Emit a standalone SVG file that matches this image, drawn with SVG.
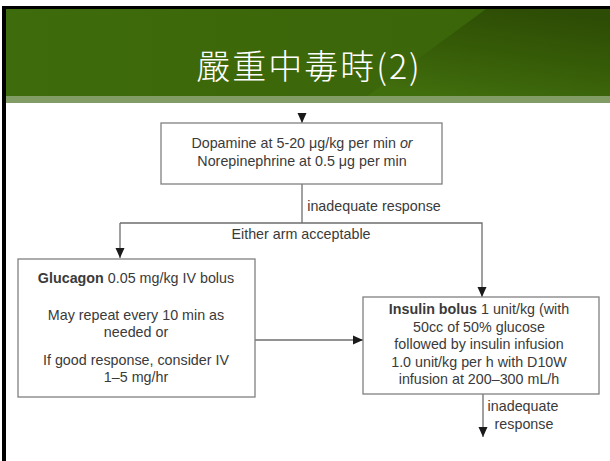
<svg xmlns="http://www.w3.org/2000/svg" width="610" height="461" viewBox="0 0 610 461">
<style>
.t{font-family:"Liberation Sans",Arial,sans-serif;font-size:14.3px;fill:#3a3a3a;text-anchor:middle}
.b{font-weight:bold}
.box{fill:#fff;stroke:#808080;stroke-width:1.3}
.ln{fill:none;stroke:#6e6e6e;stroke-width:1.3}
</style>
<defs>
<linearGradient id="gL" x1="0" y1="0" x2="1" y2="0">
<stop offset="0" stop-color="#3e6b0b"/>
<stop offset="1" stop-color="#3a6409"/>
</linearGradient>
<linearGradient id="gR" x1="0.3" y1="1" x2="0.7" y2="0">
<stop offset="0" stop-color="#416e0d"/>
<stop offset="0.55" stop-color="#355a07"/>
<stop offset="1" stop-color="#2d4c05"/>
</linearGradient>
<marker id="ah" markerUnits="userSpaceOnUse" markerWidth="10" markerHeight="10" viewBox="0 0 10 10" refX="10" refY="5" orient="auto">
<path d="M0,0.5 L10,5 L0,9.5 Z" fill="#1a1a1a"/>
</marker>
</defs>
<rect x="0" y="0" width="610" height="461" fill="#fff"/>
<g id="title">
<rect x="2" y="9" width="608" height="88" fill="url(#gL)"/>
<polygon points="486,9 610,9 610,97 366,97" fill="url(#gR)"/>
<rect x="6" y="96" width="604" height="7" fill="#819d65"/>
<rect x="2" y="6" width="608" height="3" fill="#000"/>
<rect x="2" y="6" width="4" height="455" fill="#000"/>
<text x="309" y="79" style="font-family:'Noto Sans CJK TC','Noto Sans CJK SC',sans-serif;font-size:34px;font-weight:300;fill:#fff;text-anchor:middle;letter-spacing:2px">嚴重中毒時(2)</text>
</g>
<g id="connectors">
<line class="ln" x1="302" y1="114" x2="302" y2="123" marker-end="url(#ah)"/>
<polyline class="ln" points="302,184 302,223"/>
<polyline class="ln" points="120,223 482,223 482,297" marker-end="url(#ah)"/>
<line class="ln" x1="120" y1="223" x2="120" y2="258" marker-end="url(#ah)"/>
<line class="ln" x1="255" y1="340" x2="363" y2="340" marker-end="url(#ah)"/>
<line class="ln" x1="483" y1="394" x2="483" y2="437" marker-end="url(#ah)"/>
<text class="t" x="374" y="211">inadequate response</text>
<text class="t" x="301" y="239">Either arm acceptable</text>
<text class="t" x="523" y="411">inadequate</text>
<text class="t" x="524" y="429">response</text>
</g>
<g id="node-vasopressor">
<rect class="box" x="161" y="123" width="281" height="61"/>
<text class="t" x="302" y="148">Dopamine at 5-20 μg/kg per min <tspan font-style="italic">or</tspan></text>
<text class="t" x="302" y="166">Norepinephrine at 0.5 μg per min</text>
</g>
<g id="node-glucagon">
<rect class="box" x="18" y="259" width="237" height="138"/>
<text class="t" x="136" y="283"><tspan class="b">Glucagon</tspan> 0.05 mg/kg IV bolus</text>
<text class="t" x="136" y="320">May repeat every 10 min as</text>
<text class="t" x="136" y="337">needed or</text>
<text class="t" x="136" y="365">If good response, consider IV</text>
<text class="t" x="136" y="382">1–5 mg/hr</text>
</g>
<g id="node-insulin">
<rect class="box" x="363" y="297" width="236" height="97"/>
<text class="t" x="479" y="314"><tspan class="b">Insulin bolus</tspan> 1 unit/kg (with</text>
<text class="t" x="479" y="332">50cc of 50% glucose</text>
<text class="t" x="479" y="349">followed by insulin infusion</text>
<text class="t" x="479" y="367">1.0 unit/kg per h with D10W</text>
<text class="t" x="479" y="384">infusion at 200–300 mL/h</text>
</g>
</svg>
